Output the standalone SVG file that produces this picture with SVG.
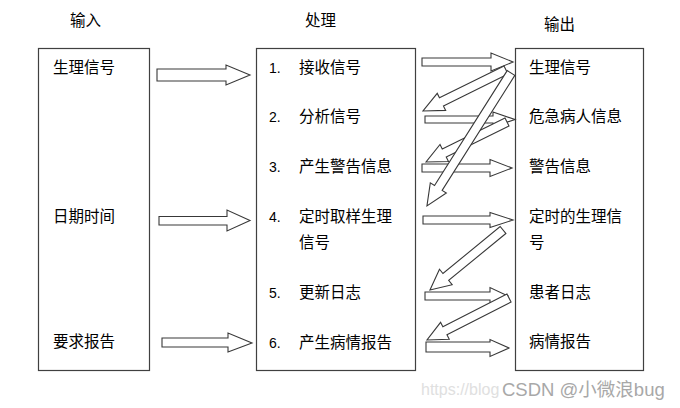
<svg xmlns="http://www.w3.org/2000/svg" width="680" height="408" viewBox="0 0 680 408">
<style>
.box{fill:#fff;stroke:#404040;stroke-width:1.2}
.arr{fill:#fff;stroke:#383838;stroke-width:1.1}
.t{font-family:"Noto Sans CJK SC","Liberation Sans",sans-serif;font-size:15.5px;fill:#000}
.n{font-family:"Liberation Sans",sans-serif;font-size:14px;fill:#000}
.wm{font-family:"Liberation Sans","Noto Sans CJK SC",sans-serif;font-size:18.5px;fill:#a8a8a8}
.wu{font-family:"Liberation Sans",sans-serif;font-size:16px;fill:#e0e0e0}
</style>
<rect width="680" height="408" fill="#fff"/>
<text class="t" x="70" y="26">输入</text>
<text class="t" x="305" y="25.5">处理</text>
<text class="t" x="544" y="30">输出</text>

<g id="input">
<rect class="box" x="38.5" y="48.5" width="111" height="322"/>
<text class="t" x="53" y="73">生理信号</text>
<text class="t" x="53" y="222">日期时间</text>
<text class="t" x="53" y="346.5">要求报告</text>
</g>

<g id="process">
<rect class="box" x="256.5" y="48.5" width="159" height="322"/>
<text class="n" x="269" y="72.5">1.</text><text class="t" x="299" y="72.5">接收信号</text>
<text class="n" x="269" y="122">2.</text><text class="t" x="299" y="122">分析信号</text>
<text class="n" x="269" y="171.5">3.</text><text class="t" x="299" y="171.5">产生警告信息</text>
<text class="n" x="269" y="221.5">4.</text><text class="t" x="299" y="221.5">定时取样生理</text>
<text class="t" x="299" y="248">信号</text>
<text class="n" x="269" y="297.5">5.</text><text class="t" x="299" y="297.5">更新日志</text>
<text class="n" x="269" y="347.5">6.</text><text class="t" x="299" y="347.5">产生病情报告</text>
</g>

<g id="output">
<rect class="box" x="515.5" y="48.5" width="128" height="322"/>
<text class="t" x="529" y="73">生理信号</text>
<text class="t" x="529" y="122">危急病人信息</text>
<text class="t" x="529" y="171.5">警告信息</text>
<text class="t" x="529" y="221.5">定时的生理信</text>
<text class="t" x="529" y="248">号</text>
<text class="t" x="529" y="297.5">患者日志</text>
<text class="t" x="529" y="347">病情报告</text>
</g>

<g id="connectors">
<polygon class="arr" points="157,69 226,69 226,65 250,75 226,85 226,81 157,81"/>
<polygon class="arr" points="159,216.5 227,216.5 227,210 250,220.5 227,231 227,225 159,225"/>
<polygon class="arr" points="162,338 228,338 228,333 252,343 228,352 228,347 162,347"/>

<polygon class="arr" points="422,58 491,58 491,53 513,62 491,71 491,66 422,66"/>
<polygon class="arr" points="425,116 493,116 493,112 515,119.5 493,127 493,123 425,123"/>
<polygon class="arr" points="422,164 490,164 490,159.5 512,168 490,176.5 490,172 422,172"/>
<polygon class="arr" points="423,216 490,216 490,212.5 513,220 490,227.5 490,224 423,224"/>
<polygon class="arr" points="425,292 490,292 490,287.5 508,296 490,304.5 490,300 425,300"/>
<polygon class="arr" points="426,342 490,342 490,339.5 509,348 490,356.5 490,352 426,352"/>

<polygon class="arr" transform="translate(506,70) rotate(153.7)" points="0,-4.5 72,-4.5 72,-9.5 92.6,0 72,9.5 72,4.5 0,4.5"/>
<polygon class="arr" transform="translate(507,122) rotate(153.7)" points="0,-4.5 70,-4.5 70,-9.5 90.3,0 70,9.5 70,4.5 0,4.5"/>
<polygon class="arr" transform="translate(511,73) rotate(122.3)" points="0,-4.5 136,-4.5 136,-9.5 157.3,0 136,9.5 136,4.5 0,4.5"/>
<polygon class="arr" transform="translate(503,230) rotate(140.6)" points="0,-4.5 74,-4.5 74,-10 94.5,0 74,10 74,4.5 0,4.5"/>
<polygon class="arr" transform="translate(509,298) rotate(152.9)" points="0,-4.5 72,-4.5 72,-9.5 92.1,0 72,9.5 72,4.5 0,4.5"/>
</g>

<text class="wu" x="421" y="395">https://blog</text>
<text class="wm" x="502" y="396">CSDN @小微浪bug</text>
</svg>
